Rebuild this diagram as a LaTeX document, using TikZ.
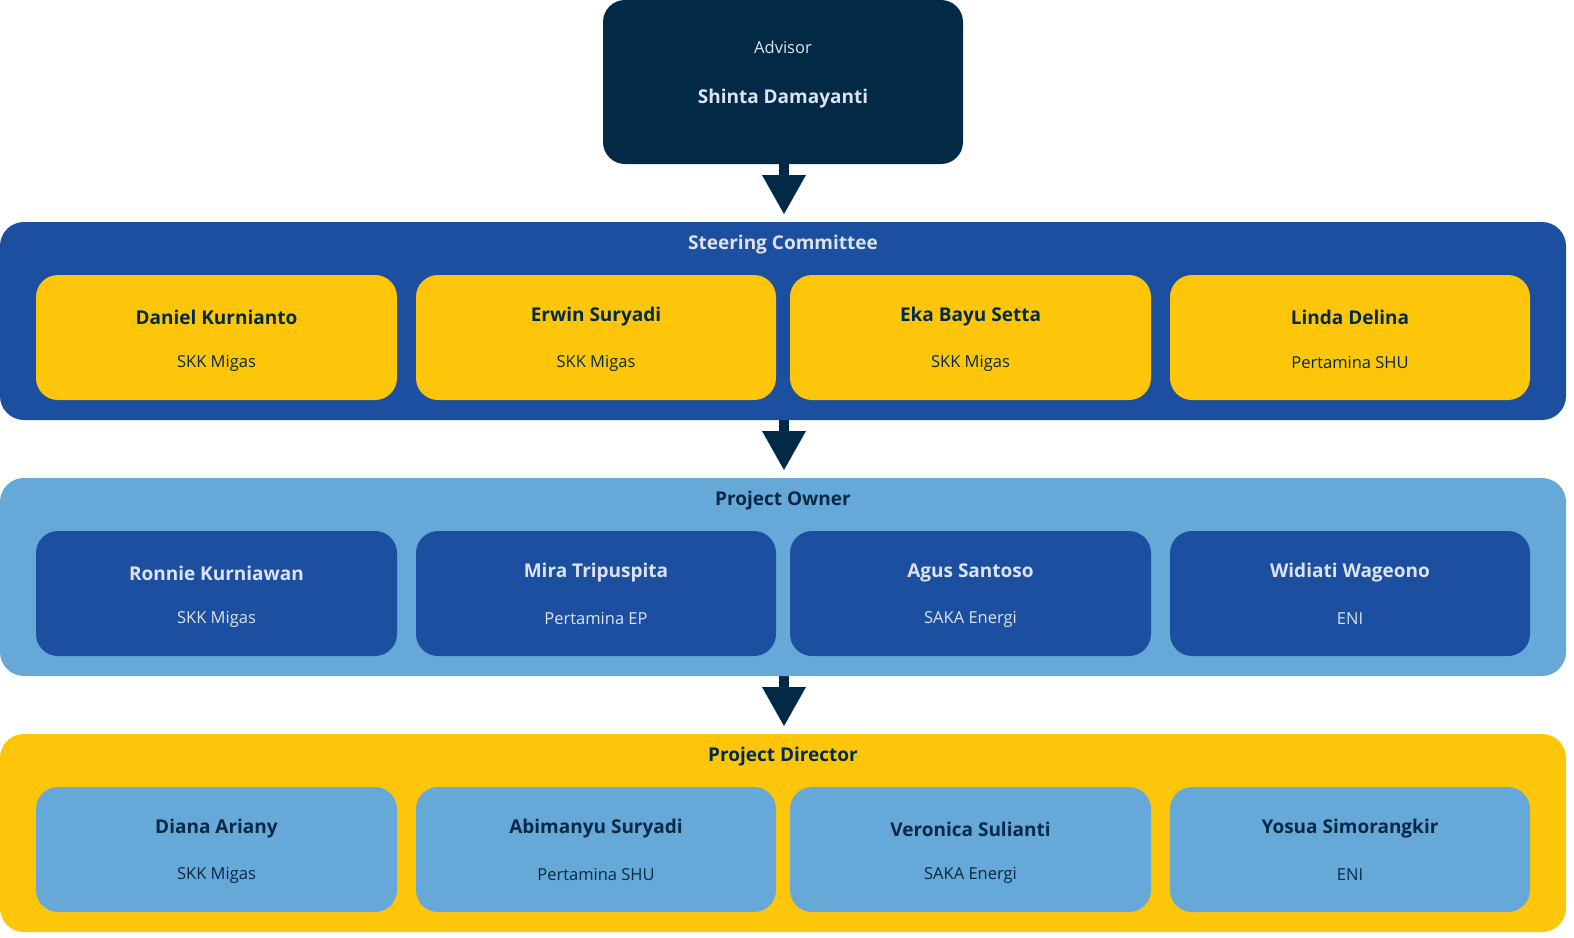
\documentclass[tikz,border=0pt]{standalone}
\usepackage{fontspec}
\setmainfont{Open Sans}
\definecolor{navy}{HTML}{022A47}
\definecolor{royal}{HTML}{1D4FA1}
\definecolor{sky}{HTML}{66A8D8}
\definecolor{gold}{HTML}{FEC60B}
\definecolor{pale}{HTML}{DCE3EE}
\tikzset{
 band/.style={rounded corners=24pt},
 card/.style={rounded corners=22pt},
 nm/.style={font=\fontsize{19}{22}\selectfont\bfseries},
 org/.style={font=\fontsize{16.5}{20}\selectfont},
 ttl/.style={font=\fontsize{19}{22}\selectfont\bfseries},
 arr/.style={fill=navy}
}
\begin{document}
\begin{tikzpicture}[x=1pt,y=-1pt]
\useasboundingbox (0,0) rectangle (1574,937);
% advisor
\fill[navy,rounded corners=22pt] (603,0) rectangle (963,164);
\node[pale,font=\fontsize{16.5}{20}\selectfont] (adv) at (783,47) {Advisor};
\node[pale,nm] (advn) at (783,99) {Shinta Damayanti};
% arrows
\foreach \t in {164,420,676}{
 \fill[arr] (779,\t) rectangle (789,\t+12);
 \fill[arr] (762,\t+11) -- (806,\t+11) -- (784,\t+50) -- cycle;
}
% bands
\fill[royal,band] (0,222) rectangle (1566,420);
\node[pale,ttl] (t1) at (783,245) {Steering Committee};
\fill[sky,band] (0,478) rectangle (1566,676);
\node[navy,ttl] (t2) at (783,501) {Project Owner};
\fill[gold,band] (0,734) rectangle (1566,932);
\node[navy,ttl] (t3) at (783,757) {Project Director};
% cards
\def\cards#1#2#3#4{%
 \foreach \xa/\xb/\n/\o [count=\i] in {#4}{
  \fill[#2,card] (\xa,#1) rectangle (\xb,#1+125);
  \node[#3,nm] (n\i) at ({(\xa+\xb)/2},#1+42) {\n};
  \node[#3,org] (o\i) at ({(\xa+\xb)/2},#1+88) {\o};
 }}
\cards{275}{gold}{navy}{36/397/Daniel Kurnianto/SKK Migas,416/776/Erwin Suryadi/SKK Migas,790/1151/Eka Bayu Setta/SKK Migas,1170/1530/Linda Delina/Pertamina SHU}
\cards{531}{royal}{pale}{36/397/Ronnie Kurniawan/SKK Migas,416/776/Mira Tripuspita/Pertamina EP,790/1151/Agus Santoso/SAKA Energi,1170/1530/Widiati Wageono/ENI}
\cards{787}{sky}{navy}{36/397/Diana Ariany/SKK Migas,416/776/Abimanyu Suryadi/Pertamina SHU,790/1151/Veronica Sulianti/SAKA Energi,1170/1530/Yosua Simorangkir/ENI}
\end{tikzpicture}
\end{document}
